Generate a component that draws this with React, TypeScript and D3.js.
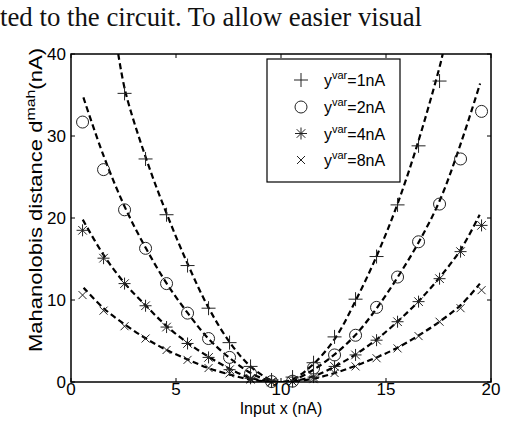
import React from "react";
import * as d3 from "d3";

const W = 507;
const H = 428;

// Axis ticks
const xTicks = [0, 5, 10, 15, 20];
const yTicks = [0, 10, 20, 30, 40];

// Measured inputs (nA)
const inputX = [
  0.55, 1.55, 2.55, 3.55, 4.55, 5.55, 6.55, 7.55, 8.55, 9.55,
  10.55, 11.55, 12.55, 13.55, 14.55, 15.55, 16.55, 17.55, 18.55, 19.55,
];

const varLabels = ["1nA", "2nA", "4nA", "8nA"];
const markerKinds = ["plus", "circle", "star", "cross"];

// Measured Mahalanobis distances per output variance (null = off scale)
const dist1 = [
  null, null, 35.2, 27.2, 20.4, 14.2, 9.0, 4.8, 1.9, 0.25,
  0.6, 2.35, 5.5, 10.1, 15.3, 21.6, 28.8, 36.7, null, null,
];
const dist2 = [
  31.7, 25.9, 21.0, 16.3, 12.0, 8.4, 5.3, 3.0, 1.05, 0.05,
  0.1, 1.7, 3.3, 5.7, 9.1, 12.8, 17.1, 21.7, 27.2, 33.0,
];
const dist4 = [
  18.5, 15.1, 12.0, 9.3, 6.7, 4.7, 3.0, 1.5, 0.45, 0.0,
  0.05, 0.6, 1.9, 3.3, 5.1, 7.35, 9.8, 12.6, 15.9, 19.1,
];
const dist8 = [
  10.6, 8.7, 6.8, 5.3, 3.9, 2.7, 1.7, 1.05, 0.3, 0.0,
  0.05, 0.35, 1.1, 1.9, 2.9, 4.1, 5.6, 7.35, 9.0, 11.2,
];

// Theoretical curves (x, d) per variance
const curve1X = [2.25, 2.6, 3.57, 4.56, 5.59, 6.54, 7.57, 8.55, 9.55, 10.05, 10.55, 11.55, 12.57, 13.57, 14.56, 15.56, 16.57, 17.57, 17.7];
const curve1Y = [40, 35.3, 27.3, 20.5, 14.2, 9.1, 4.8, 1.9, 0.2, 0, 0.3, 2.2, 5.3, 10.0, 15.4, 21.8, 29.6, 38.6, 40];
const curve2X = [0.59, 1.55, 2.57, 3.57, 4.56, 5.59, 6.54, 7.57, 8.55, 9.55, 10.05, 10.55, 11.55, 12.57, 13.57, 14.56, 15.56, 16.57, 17.57, 18.55, 19.48];
const curve2Y = [34.7, 27.6, 21.3, 16.3, 12.0, 8.3, 5.3, 2.9, 1.1, 0.1, 0, 0.2, 1.5, 3.4, 5.8, 9.0, 12.8, 17.1, 22.2, 29.0, 36.4];
const curve4X = [0.56, 1.55, 2.57, 3.57, 4.56, 5.59, 6.54, 7.57, 8.55, 9.55, 10.05, 10.55, 11.55, 12.57, 13.57, 14.56, 15.56, 16.57, 17.57, 18.57, 19.46];
const curve4Y = [19.8, 15.5, 12.0, 9.3, 6.8, 4.7, 3.1, 1.6, 0.5, 0.05, 0, 0.1, 0.7, 1.9, 3.4, 5.2, 7.4, 9.9, 12.8, 16.2, 20.4];
const curve8X = [0.6, 1.55, 2.57, 3.57, 4.56, 5.59, 6.54, 7.57, 8.55, 9.55, 10.05, 10.55, 11.55, 12.57, 13.57, 14.56, 15.56, 16.57, 17.57, 18.57, 19.47];
const curve8Y = [11.5, 9.0, 7.0, 5.3, 3.9, 2.7, 1.7, 0.9, 0.3, 0.0, 0, 0.05, 0.4, 1.1, 2.0, 3.0, 4.2, 5.7, 7.4, 9.4, 12.0];

const margin = { left: 71, right: 491, top: 54, bottom: 382 };
const FONT = "Arial, 'Liberation Sans', sans-serif";

function markerPath(kind: string): string {
  switch (kind) {
    case "plus":
      return "M-7,0H7M0,-7V7";
    case "star":
      return "M-6,0H6M0,-6V6M-4.3,-4.3L4.3,4.3M-4.3,4.3L4.3,-4.3";
    case "cross":
      return "M-4,-4L4,4M-4,4L4,-4";
    default:
      return "";
  }
}

function Marker({ kind, x, y }: { kind: string; x: number; y: number }) {
  if (kind === "circle") {
    return <circle cx={x} cy={y} r={6} fill="none" stroke="#222" strokeWidth={1} />;
  }
  return (
    <path d={markerPath(kind)} transform={`translate(${x},${y})`} fill="none" stroke="#222" strokeWidth={1} />
  );
}

export default function App() {
  const x = d3.scaleLinear().domain([0, 20]).range([margin.left, margin.right]);
  const y = d3.scaleLinear().domain([0, 40]).range([margin.bottom, margin.top]);

  const seriesDist = [dist1, dist2, dist4, dist8];
  const curves = [
    [curve1X, curve1Y],
    [curve2X, curve2Y],
    [curve4X, curve4Y],
    [curve8X, curve8Y],
  ];

  const line = d3
    .line<[number, number]>()
    .x((d) => x(d[0]))
    .y((d) => y(d[1]))
    .curve(d3.curveCatmullRom.alpha(0.5));

  const tickLen = 4;
  const legendRows = [80, 107, 133.5, 160];

  return (
    <svg
      width={W}
      height={H}
      viewBox={`0 0 ${W} ${H}`}
      style={{ position: "absolute", left: 0, top: 0, background: "#fff" }}
    >
      <rect x={0} y={0} width={W} height={H} fill="#fff" />
      <text
        x={0}
        y={26}
        fontFamily="'Times New Roman', 'Liberation Serif', serif"
        fontSize={27}
        textLength={422}
        lengthAdjust="spacingAndGlyphs"
        fill="#111"
      >
        ted to the circuit. To allow easier visual
      </text>

      <defs>
        <clipPath id="plotClip">
          <rect
            x={margin.left}
            y={margin.top}
            width={margin.right - margin.left}
            height={margin.bottom - margin.top}
          />
        </clipPath>
      </defs>

      {/* fitted curves */}
      <g clipPath="url(#plotClip)">
        {curves.map(([cx, cy], i) => (
          <path
            key={i}
            d={line(cx.map((v, j) => [v, cy[j]] as [number, number])) || ""}
            fill="none"
            stroke="#000"
            strokeWidth={2.2}
            strokeDasharray="6,3.5"
          />
        ))}
      </g>

      {/* measured points */}
      {seriesDist.map((arr, si) =>
        arr.map((v, j) =>
          v === null ? null : (
            <Marker key={`${si}-${j}`} kind={markerKinds[si]} x={x(inputX[j])} y={y(v)} />
          )
        )
      )}

      {/* ticks */}
      {xTicks.map((t) => (
        <g key={`xt${t}`}>
          <line x1={x(t)} x2={x(t)} y1={margin.bottom} y2={margin.bottom - tickLen} stroke="#000" strokeWidth={1} />
          <line x1={x(t)} x2={x(t)} y1={margin.top} y2={margin.top + tickLen} stroke="#000" strokeWidth={1} />
          <text x={x(t)} y={395} textAnchor="middle" fontFamily={FONT} fontSize={17} fill="#000">
            {t}
          </text>
        </g>
      ))}
      {yTicks.map((t) => (
        <g key={`yt${t}`}>
          <line x1={margin.left} x2={margin.left + tickLen} y1={y(t)} y2={y(t)} stroke="#000" strokeWidth={1} />
          <line x1={margin.right} x2={margin.right - tickLen} y1={y(t)} y2={y(t)} stroke="#000" strokeWidth={1} />
          <text x={66} y={y(t) + 6} textAnchor="end" fontFamily={FONT} fontSize={17} fill="#000">
            {t}
          </text>
        </g>
      ))}

      {/* axes box */}
      <rect
        x={margin.left}
        y={margin.top}
        width={margin.right - margin.left}
        height={margin.bottom - margin.top}
        fill="none"
        stroke="#000"
        strokeWidth={1.5}
      />

      {/* axis titles */}
      <text x={281} y={414} textAnchor="middle" fontFamily={FONT} fontSize={16} fill="#000">
        Input x (nA)
      </text>
      <text
        transform="translate(41.5,200) rotate(-90)"
        textAnchor="middle"
        fontFamily={FONT}
        fontSize={18}
        textLength={304}
        lengthAdjust="spacingAndGlyphs"
        fill="#000"
      >
        Mahanolobis distance d
        <tspan fontSize={13} dy={-7}>mah</tspan>
        <tspan dy={7}>(nA)</tspan>
      </text>

      {/* legend */}
      <rect x={267} y={59} width={133} height={123} fill="#fff" stroke="#000" strokeWidth={1.2} />
      {varLabels.map((lab, i) => (
        <g key={lab}>
          <Marker kind={markerKinds[i]} x={301} y={legendRows[i]} />
          <text x={324} y={legendRows[i] + 6} fontFamily={FONT} fontSize={16} fill="#000">
            y
            <tspan fontSize={11} dy={-7}>var</tspan>
            <tspan dy={7}>={lab}</tspan>
          </text>
        </g>
      ))}
    </svg>
  );
}
